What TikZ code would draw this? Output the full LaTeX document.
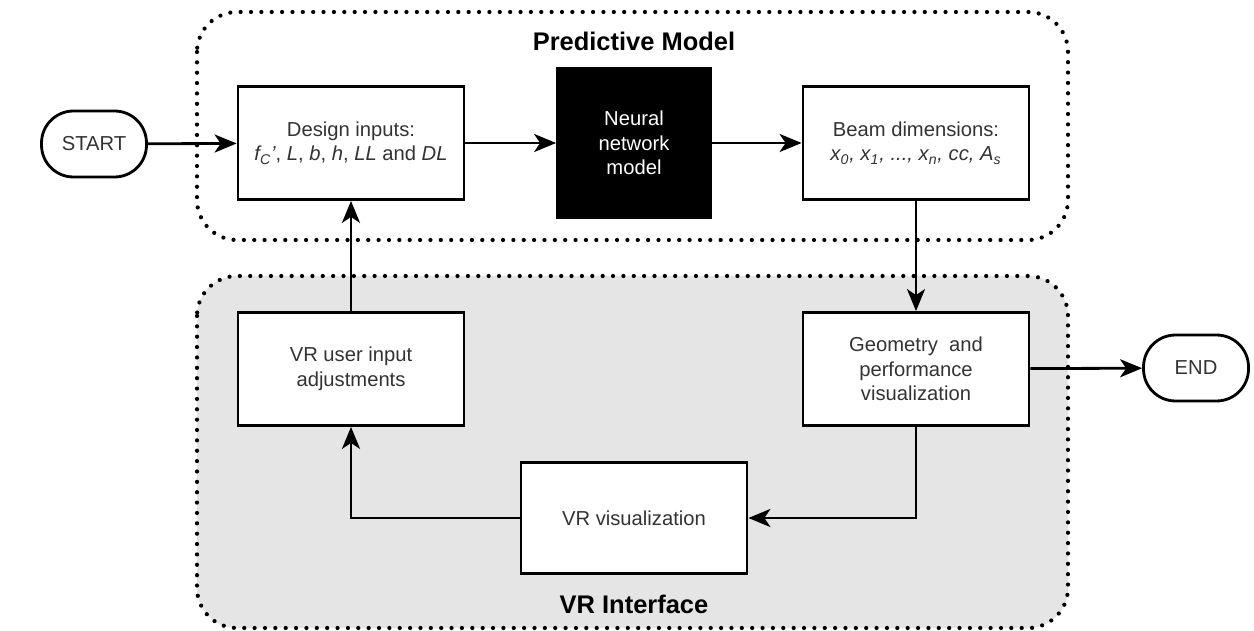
\documentclass[tikz,border=0pt]{standalone}
\usepackage{fontspec}
\setmainfont{Liberation Sans}
\usetikzlibrary{arrows.meta, positioning}

\begin{document}
\begin{tikzpicture}[
    x=0.02cm, y=-0.02cm,
    every node/.style={font=\fontsize{11.5pt}{14pt}\selectfont, align=center, text=black!80},
    box/.style={rectangle, draw=black, line width=1.6pt, fill=white, minimum width=4.52cm, minimum height=2.26cm, inner sep=2pt},
    term/.style={rectangle, draw=black, line width=1.6pt, fill=white, rounded corners=0.64cm, minimum width=2.1cm, minimum height=1.32cm},
    group/.style={line width=2.4pt, dash pattern=on 0pt off 5.9pt, line cap=round, rounded corners=0.8cm},
    title/.style={font=\bfseries\fontsize{14.5pt}{16pt}\selectfont, text=black},
    arrow/.style={-{Stealth[length=4.4mm, width=3.6mm, inset=1.2mm]}, line width=1.6pt}
]
    \useasboundingbox (0,0) rectangle (1254,631);

    % the two groups
    \draw[group] (197,12) rectangle (1068,240);
    \draw[group, fill=black!10] (197,276) rectangle (1068,628);
    \node[title] (predtitle) at (634,41) {Predictive Model};
    \node[title] (vrtitle) at (634,604) {VR Interface};

    % blocks
    \node[term] (start) at (94,144) {START};
    \node[box] (design) at (351,143) {Design inputs:\\\textit{f\textsubscript{C}'}, \textit{L}, \textit{b}, \textit{h}, \textit{LL} and \textit{DL}};
    \node[box, fill=black, text=white, minimum width=3.06cm, minimum height=3cm] (nn) at (634,143) {Neural\\network\\model};
    \node[box] (beam) at (916,143) {Beam dimensions:\\\textit{x\textsubscript{0}, x\textsubscript{1}, ..., x\textsubscript{n}, cc, A\textsubscript{s}}};
    \node[box] (adjust) at (351,369) {VR user input\\adjustments};
    \node[box] (geom) at (916,369) {Geometry~ and\\performance\\visualization};
    \node[term] (end) at (1196,368) {END};
    \node[box, minimum height=2.22cm] (vrvis) at (634,518) {VR visualization};

    % flow
    \draw[arrow] (start) -- (design);
    \draw[arrow] (design) -- (nn);
    \draw[arrow] (nn) -- (beam);
    \draw[arrow] (beam) -- (geom);
    \draw[arrow] (geom) -- (end);
    \draw[arrow] (geom.south) |- (vrvis.east);
    \draw[arrow] (vrvis.west) -| (adjust.south);
    \draw[arrow] (adjust) -- (design);
\end{tikzpicture}
\end{document}
